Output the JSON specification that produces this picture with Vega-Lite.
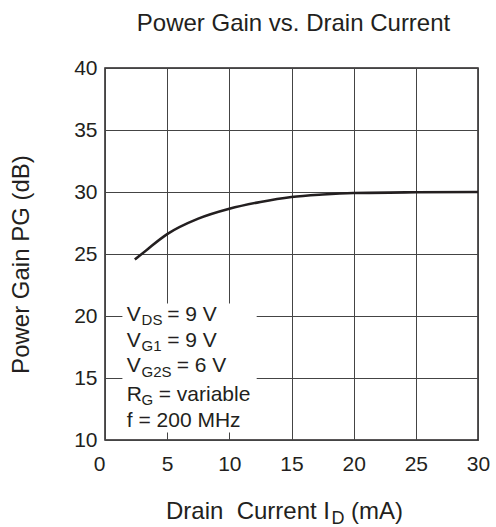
{
  "$schema": "https://vega.github.io/schema/vega-lite/v6.json",
  "width": 373,
  "height": 372,
  "autosize": {"type": "none"},
  "padding": {"left": 105, "top": 68, "right": 18, "bottom": 87},
  "background": "white",
  "config": {
    "font": "Liberation Sans",
    "view": {"stroke": "#231f20", "strokeWidth": 1.5},
    "text": {"font": "Liberation Sans", "color": "#231f20"},
    "axis": {
      "grid": true, "gridColor": "#444444", "gridWidth": 1, "gridOpacity": 1,
      "domain": false, "ticks": false, "tickSize": 0,
      "labelFont": "Liberation Sans", "labelFontSize": 21, "labelColor": "#231f20",
      "labelFlush": false, "labelOverlap": false,
      "titleFont": "Liberation Sans", "titleFontSize": 24, "titleFontWeight": "normal", "titleColor": "#231f20"
    }
  },
  "title": {
    "text": "Power Gain vs. Drain Current",
    "fontSize": 24,
    "font": "Liberation Sans",
    "fontWeight": "normal",
    "color": "#231f20",
    "anchor": "middle",
    "frame": "group",
    "baseline": "alphabetic",
    "offset": 2,
    "dx": 2
  },
  "datasets": {
    "curve": [
      {"id": 2.4, "pg": 24.55},
      {"id": 3.5, "pg": 25.45},
      {"id": 5, "pg": 26.6},
      {"id": 7.5, "pg": 27.85},
      {"id": 10, "pg": 28.65},
      {"id": 12.5, "pg": 29.2},
      {"id": 15, "pg": 29.6},
      {"id": 17.5, "pg": 29.8},
      {"id": 20, "pg": 29.92},
      {"id": 25, "pg": 29.98},
      {"id": 30, "pg": 30.0}
    ],
    "box": [{"x1": 1.4, "x2": 12.2, "y1": 10.6, "y2": 21.0}],
    "legend": [
      {"row": 1, "main": "V", "sub": "DS", "rest": "= 9 V", "gy": 19.6},
      {"row": 2, "main": "V", "sub": "G1", "rest": "= 9 V", "gy": 17.54},
      {"row": 3, "main": "V", "sub": "G2S", "rest": "= 6 V", "gy": 15.48},
      {"row": 4, "main": "R", "sub": "G", "rest": "= variable", "gy": 13.15},
      {"row": 5, "main": "f = 200 MHz", "sub": "", "rest": "", "gy": 11.07}
    ],
    "xtitle": [
      {"part": "main", "label": "Drain\u00a0 Current I"},
      {"part": "sub", "label": "D"},
      {"part": "rest", "label": "(mA)"}
    ]
  },
  "layer": [
    {
      "data": {"name": "curve"},
      "mark": {"type": "line", "color": "#231f20", "strokeWidth": 2.6, "interpolate": "monotone"},
      "encoding": {
        "x": {
          "field": "id", "type": "quantitative",
          "scale": {"domain": [0, 30], "nice": false, "zero": false},
          "axis": {
            "title": null,
            "values": [0, 5, 10, 15, 20, 25, 30],
            "labelPadding": 30, "labelBaseline": "alphabetic",
            "labelAlign": {"condition": {"test": "datum.value === 0", "value": "right"}, "value": "center"}
          }
        },
        "y": {
          "field": "pg", "type": "quantitative",
          "scale": {"domain": [10, 40], "nice": false, "zero": false},
          "title": "Power Gain PG (dB)",
          "axis": {
            "title": "Power Gain PG (dB)",
            "values": [10, 15, 20, 25, 30, 35, 40],
            "labelPadding": 8, "labelBaseline": "middle",
            "titleX": -77, "titleY": 196,
            "titleBaseline": "alphabetic", "titleAngle": -90, "titleAlign": "center"
          }
        }
      }
    },
    {
      "data": {"name": "box"},
      "mark": {"type": "rect", "fill": "white", "stroke": null},
      "encoding": {
        "x": {"field": "x1", "type": "quantitative", "scale": {"domain": [0, 30], "nice": false, "zero": false}, "title": null},
        "x2": {"field": "x2"},
        "y": {"field": "y1", "type": "quantitative", "scale": {"domain": [10, 40], "nice": false, "zero": false}, "title": "Power Gain PG (dB)"},
        "y2": {"field": "y2"}
      }
    },
    {
      "data": {"name": "legend"},
      "mark": {"type": "text", "align": "left", "baseline": "alphabetic", "fontSize": 21},
      "encoding": {
        "x": {"datum": 1.75, "type": "quantitative", "scale": {"domain": [0, 30], "nice": false, "zero": false}, "title": null},
        "y": {"field": "gy", "type": "quantitative", "scale": {"domain": [10, 40], "nice": false, "zero": false}, "title": "Power Gain PG (dB)"},
        "text": {"field": "main"}
      }
    },
    {
      "data": {"name": "legend"},
      "transform": [{"filter": "datum.sub !== ''"}],
      "mark": {"type": "text", "align": "left", "baseline": "alphabetic", "fontSize": 15, "dx": 14.8, "dy": 4.5},
      "encoding": {
        "x": {"datum": 1.75, "type": "quantitative", "scale": {"domain": [0, 30], "nice": false, "zero": false}, "title": null},
        "y": {"field": "gy", "type": "quantitative", "scale": {"domain": [10, 40], "nice": false, "zero": false}, "title": "Power Gain PG (dB)"},
        "text": {"field": "sub"}
      }
    },
    {
      "data": {"name": "legend"},
      "transform": [{"filter": "datum.row === 1 || datum.row === 2"}],
      "mark": {"type": "text", "align": "left", "baseline": "alphabetic", "fontSize": 21, "dx": 40.5},
      "encoding": {
        "x": {"datum": 1.75, "type": "quantitative", "scale": {"domain": [0, 30], "nice": false, "zero": false}, "title": null},
        "y": {"field": "gy", "type": "quantitative", "scale": {"domain": [10, 40], "nice": false, "zero": false}, "title": "Power Gain PG (dB)"},
        "text": {"field": "rest"}
      }
    },
    {
      "data": {"name": "legend"},
      "transform": [{"filter": "datum.row === 3"}],
      "mark": {"type": "text", "align": "left", "baseline": "alphabetic", "fontSize": 21, "dx": 50},
      "encoding": {
        "x": {"datum": 1.75, "type": "quantitative", "scale": {"domain": [0, 30], "nice": false, "zero": false}, "title": null},
        "y": {"field": "gy", "type": "quantitative", "scale": {"domain": [10, 40], "nice": false, "zero": false}, "title": "Power Gain PG (dB)"},
        "text": {"field": "rest"}
      }
    },
    {
      "data": {"name": "legend"},
      "transform": [{"filter": "datum.row === 4"}],
      "mark": {"type": "text", "align": "left", "baseline": "alphabetic", "fontSize": 21, "dx": 32},
      "encoding": {
        "x": {"datum": 1.75, "type": "quantitative", "scale": {"domain": [0, 30], "nice": false, "zero": false}, "title": null},
        "y": {"field": "gy", "type": "quantitative", "scale": {"domain": [10, 40], "nice": false, "zero": false}, "title": "Power Gain PG (dB)"},
        "text": {"field": "rest"}
      }
    },
    {
      "data": {"name": "xtitle"},
      "transform": [{"filter": "datum.part === 'main'"}],
      "mark": {"type": "text", "align": "right", "baseline": "alphabetic", "fontSize": 24},
      "encoding": {
        "x": {"datum": 18.1, "type": "quantitative", "scale": {"domain": [0, 30], "nice": false, "zero": false}, "title": null},
        "y": {"datum": 3.63, "type": "quantitative", "scale": {"domain": [10, 40], "nice": false, "zero": false}, "title": "Power Gain PG (dB)"},
        "text": {"field": "label"}
      }
    },
    {
      "data": {"name": "xtitle"},
      "transform": [{"filter": "datum.part === 'sub'"}],
      "mark": {"type": "text", "align": "left", "baseline": "alphabetic", "fontSize": 18, "dx": 1.5, "dy": 5},
      "encoding": {
        "x": {"datum": 18.1, "type": "quantitative", "scale": {"domain": [0, 30], "nice": false, "zero": false}, "title": null},
        "y": {"datum": 3.63, "type": "quantitative", "scale": {"domain": [10, 40], "nice": false, "zero": false}, "title": "Power Gain PG (dB)"},
        "text": {"field": "label"}
      }
    },
    {
      "data": {"name": "xtitle"},
      "transform": [{"filter": "datum.part === 'rest'"}],
      "mark": {"type": "text", "align": "left", "baseline": "alphabetic", "fontSize": 24, "dx": 21},
      "encoding": {
        "x": {"datum": 18.1, "type": "quantitative", "scale": {"domain": [0, 30], "nice": false, "zero": false}, "title": null},
        "y": {"datum": 3.63, "type": "quantitative", "scale": {"domain": [10, 40], "nice": false, "zero": false}, "title": "Power Gain PG (dB)"},
        "text": {"field": "label"}
      }
    }
  ]
}
